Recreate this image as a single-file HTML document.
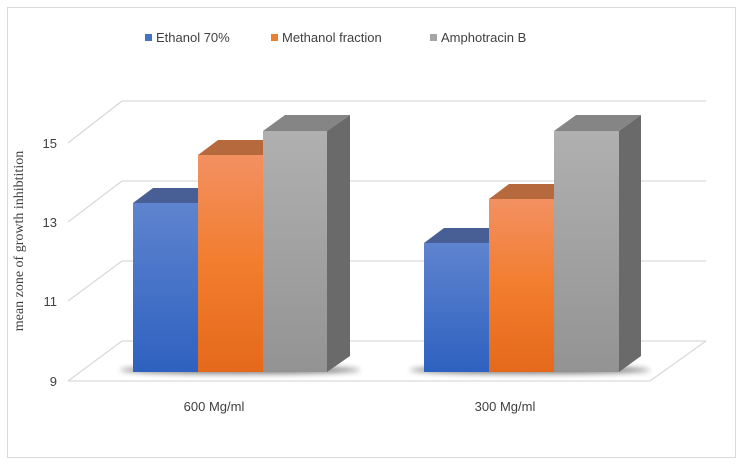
<!DOCTYPE html>
<html><head><style>
body{margin:0;background:#fff;}
svg{display:block;font-family:"Liberation Sans",sans-serif;}
</style></head><body>
<svg width="742" height="464" viewBox="0 0 742 464" xmlns="http://www.w3.org/2000/svg">
<defs>
<linearGradient id="gb" x1="0" y1="0" x2="0" y2="1"><stop offset="0" stop-color="#5f84cf"/><stop offset="1" stop-color="#2e61c0"/></linearGradient>
<linearGradient id="go" x1="0" y1="0" x2="0" y2="1"><stop offset="0" stop-color="#f39062"/><stop offset="0.5" stop-color="#f27d2e"/><stop offset="1" stop-color="#e5691a"/></linearGradient>
<linearGradient id="gg" x1="0" y1="0" x2="0" y2="1"><stop offset="0" stop-color="#b0b0b0"/><stop offset="1" stop-color="#939393"/></linearGradient>
<filter id="sh" x="-20%" y="-200%" width="140%" height="500%"><feGaussianBlur stdDeviation="3"/></filter>
</defs>
<rect x="7.5" y="7.5" width="728" height="450" fill="#fff" stroke="#d9d9d9"/>
<!-- legend -->
<rect x="145" y="34" width="7" height="7" fill="#4472c4"/><text x="156" y="42" font-size="13" fill="#404040">Ethanol 70%</text>
<rect x="271" y="34" width="7" height="7" fill="#ed7d31"/><text x="282" y="42" font-size="13" fill="#404040">Methanol fraction</text>
<rect x="430" y="34" width="7" height="7" fill="#a5a5a5"/><text x="441" y="42" font-size="13" fill="#404040">Amphotracin B</text>
<!-- grid -->
<g stroke="#d9d9d9" stroke-width="1.3" fill="none">
<path d="M122 101H706M122 181H706M122 261H706M122 341H706"/>
<path d="M68 143L122 101M68 222L122 181M68 301L122 261M68 381L122 341M68 381H650L706 341"/>
</g>
<g font-size="13" fill="#404040" text-anchor="end">
<text x="57" y="148">15</text><text x="57" y="227">13</text><text x="57" y="306">11</text><text x="57" y="386">9</text>
</g>
<text transform="translate(23,241) rotate(-90)" text-anchor="middle" font-family="Liberation Serif,serif" font-size="14" fill="#404040">mean zone of growth inhibtition</text>
<!-- shadows -->
<ellipse cx="240" cy="370" rx="120" ry="4" fill="#000" opacity="0.5" filter="url(#sh)"/>
<ellipse cx="530" cy="370" rx="120" ry="4" fill="#000" opacity="0.5" filter="url(#sh)"/>
<!-- group1 -->
<polygon points="133,203 153,188 218,188 198,203" fill="#485f96"/>
<rect x="133" y="203" width="65" height="169" fill="url(#gb)"/>
<polygon points="198,155 218,140 283,140 263,155" fill="#b6693d"/>
<rect x="198" y="155" width="65" height="217" fill="url(#go)"/>
<polygon points="263,131 285,115 350,115 327,131" fill="#858585"/>
<polygon points="327,131 350,115 350,356 327,372" fill="#6a6a6a"/>
<rect x="263" y="131" width="64" height="241" fill="url(#gg)"/>
<!-- group2 -->
<polygon points="424,243 444,228 509,228 489,243" fill="#485f96"/>
<rect x="424" y="243" width="65" height="129" fill="url(#gb)"/>
<polygon points="489,199 509,184 574,184 554,199" fill="#b6693d"/>
<rect x="489" y="199" width="65" height="173" fill="url(#go)"/>
<polygon points="554,131 576,115 641,115 619,131" fill="#858585"/>
<polygon points="619,131 641,115 641,356 619,372" fill="#6a6a6a"/>
<rect x="554" y="131" width="65" height="241" fill="url(#gg)"/>
<g font-size="13" fill="#404040" text-anchor="middle">
<text x="214" y="411">600 Mg/ml</text><text x="505" y="411">300 Mg/ml</text>
</g>
</svg>
</body></html>
